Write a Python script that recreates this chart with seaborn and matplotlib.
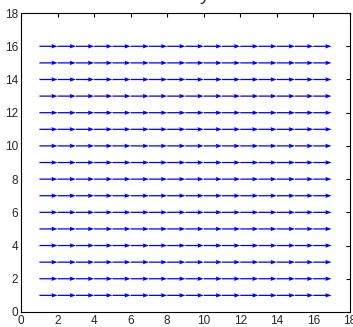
import numpy as np
import matplotlib
matplotlib.use("Agg")
import matplotlib.pyplot as plt
import seaborn as sns

# grid of arrow origins and the (constant) field
x_vals = [1, 2, 3, 4, 5, 6, 7, 8, 9, 10, 11, 12, 13, 14, 15, 16]
y_vals = [1, 2, 3, 4, 5, 6, 7, 8, 9, 10, 11, 12, 13, 14, 15, 16]
u_val = 1.0
v_val = 0.0
ticks = [0, 2, 4, 6, 8, 10, 12, 14, 16, 18]

sns.set_style("white")
plt.rcParams["font.family"] = ["Liberation Sans", "DejaVu Sans"]

X, Y = np.meshgrid(x_vals, y_vals)
U = np.full(X.shape, u_val)
V = np.full(X.shape, v_val)

fig = plt.figure(figsize=(3.53, 3.27), dpi=100)
ax = fig.add_axes([0.06, 0.046, 0.931, 0.914])

ax.quiver(X, Y, U, V, angles="xy", scale_units="xy", scale=1,
          color="#0000ff", width=0.0038, headwidth=3.5, headlength=5,
          headaxislength=4.5)

ax.set_xlim(0, 18)
ax.set_ylim(0, 18)
ax.set_xticks(ticks)
ax.set_yticks(ticks)
ax.tick_params(direction="in", length=3, labelsize=8.5, top=True, right=True,
               pad=2, color="black")
for s in ax.spines.values():
    s.set_color("black")
    s.set_linewidth(0.8)

# title mostly cut off by the top edge, as in the reference
fig.text(0.58, 1.015, "y", ha="center", va="center", fontsize=14,
         color="#333333")

fig.savefig("out.png", dpi=100)
